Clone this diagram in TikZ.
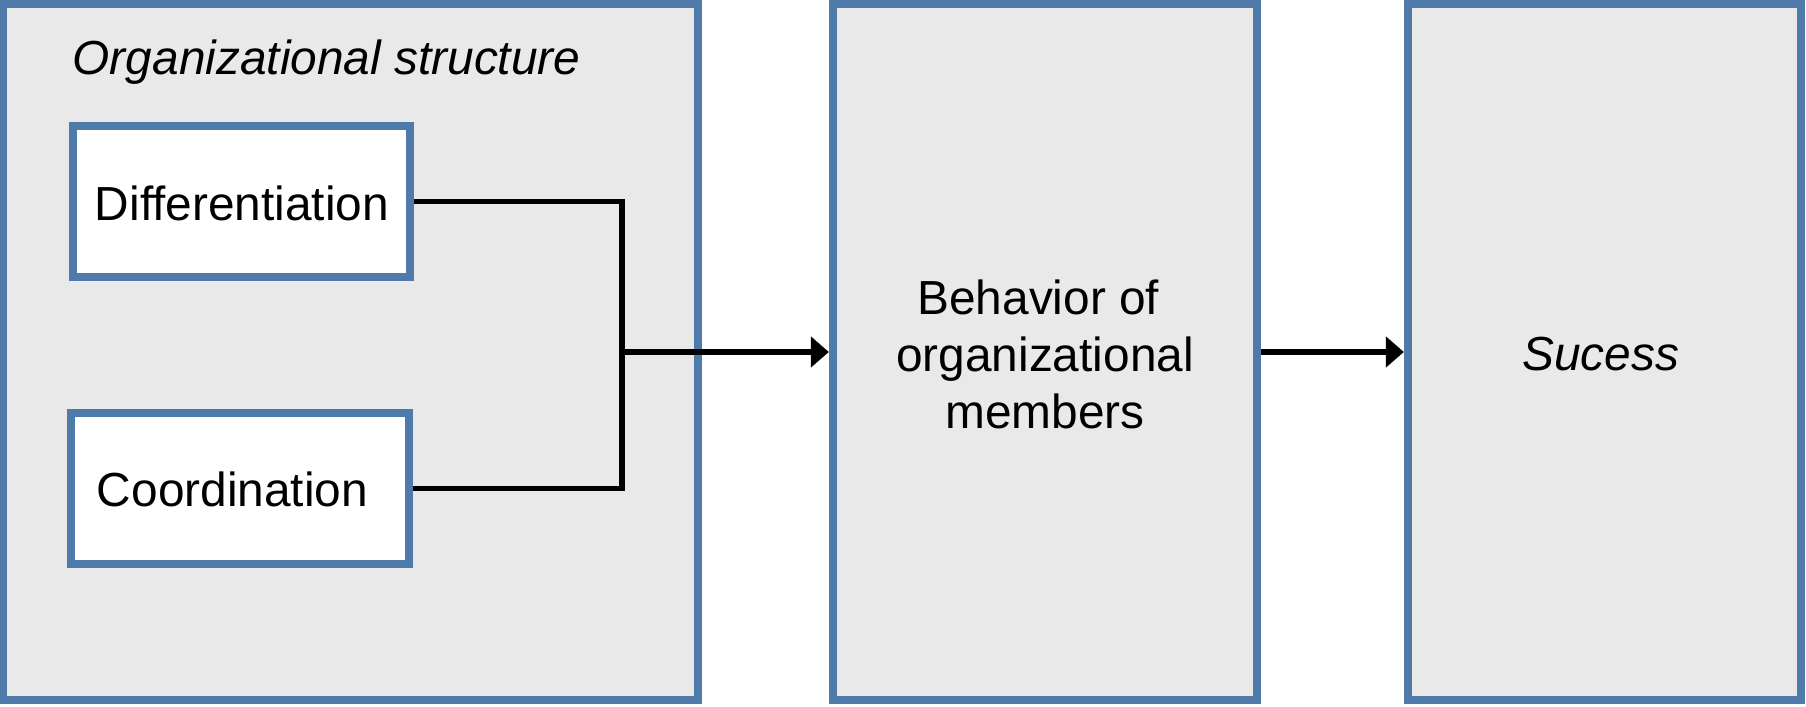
\documentclass[tikz,border=0pt]{standalone}
\usepackage{fontspec}
\setmainfont{Liberation Sans}
\usetikzlibrary{arrows.meta}
\definecolor{bordblue}{HTML}{4F7BAA}
\definecolor{boxgray}{HTML}{E9E9E9}
\begin{document}
\begin{tikzpicture}[x=0.01cm,y=-0.01cm,
  bigbox/.style={draw=bordblue, fill=boxgray, line width=0.08cm, inner sep=0pt, minimum height=6.96cm},
  smallbox/.style={draw=bordblue, fill=white, line width=0.08cm, inner sep=0pt},
  lbl/.style={font=\fontsize{13.6}{16.2}\selectfont, align=center, inner sep=0pt},
  conn/.style={line width=0.055cm},
  arr/.style={conn, -{Triangle[length=0.18cm, width=0.3cm]}}]
\useasboundingbox (0,0) rectangle (1806,707);
\node[bigbox, minimum width=6.95cm] (org) at (350.5,352) {};
\node[bigbox, minimum width=4.24cm] (mid) at (1045,352) {};
\node[bigbox, minimum width=3.93cm] (suc) at (1604.5,352) {};
\node[lbl, anchor=base west, font=\fontsize{13.6}{16.2}\selectfont\itshape] (title) at (72,75) {Organizational structure};
\node[smallbox, minimum width=3.37cm, minimum height=1.504cm] (diff) at (241.8,201.5) {};
\node[lbl] (difftxt) at (242,203) {Differentiation};
\node[smallbox, minimum width=3.38cm, minimum height=1.51cm] (coord) at (240,488.5) {};
\node[lbl] (coordtxt) at (232.5,489.5) {Coordination};
\node[lbl] (midtxt) at (1045,354.5) {Behavior of\hspace*{0.278em}\\organizational\hspace*{0.278em}\\members};
\node[lbl, font=\fontsize{13.6}{16.2}\selectfont\itshape] (suctxt) at (1600.5,354.5) {Sucess};
\coordinate (j) at (622,352);
\draw[conn] (diff.east) -- (j |- diff.east) -- (j |- coord.east) -- (coord.east);
\draw[arr] (j) -- (mid.west);
\draw[arr] (mid.east) -- (suc.west);
\end{tikzpicture}
\end{document}
